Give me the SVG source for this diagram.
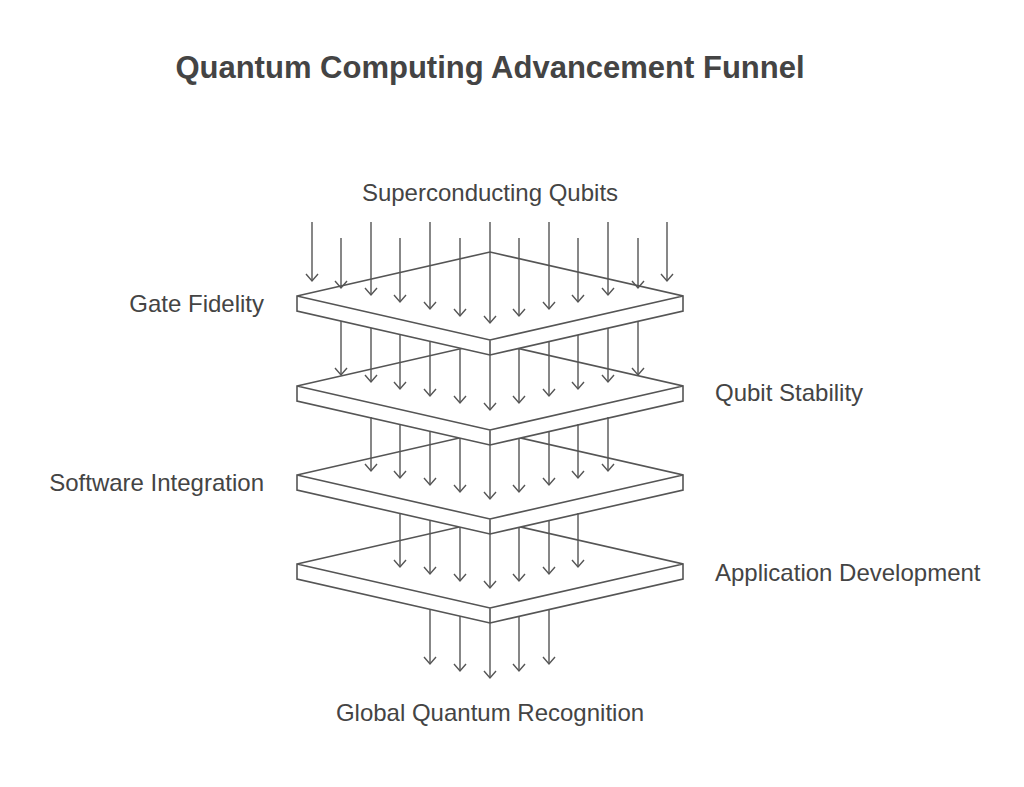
<svg xmlns="http://www.w3.org/2000/svg" width="1024" height="787" viewBox="0 0 1024 787">
<style>
.t{font-family:"Liberation Sans",Arial,sans-serif;fill:#444;font-size:24px}
.plate{fill:#fff;stroke:#555;stroke-width:1.6;stroke-linejoin:miter}
.ar{stroke:#555;stroke-width:1.4;fill:none}
</style>
<rect width="1024" height="787" fill="#fff"/>
<text x="490" y="78" text-anchor="middle" style="font-family:'Liberation Sans',Arial,sans-serif;font-weight:bold;font-size:31px;fill:#444">Quantum Computing Advancement Funnel</text>
<g id="plate4"><path class="plate" d="M297,564 L490,520 L683,564 L683,579 L490,623 L297,579 Z M297,564 L490,608 L683,564 M490,608 L490,623"/></g>
<g id="plate3"><path class="plate" d="M297,475 L490,431 L683,475 L683,490 L490,534 L297,490 Z M297,475 L490,519 L683,475 M490,519 L490,534"/></g>
<g id="plate2"><path class="plate" d="M297,386 L490,342 L683,386 L683,401 L490,445 L297,401 Z M297,386 L490,430 L683,386 M490,430 L490,445"/></g>
<g id="plate1"><path class="plate" d="M297,296 L490,252 L683,296 L683,311 L490,355 L297,311 Z M297,296 L490,340 L683,296 M490,340 L490,355"/></g>
<g id="connectors" class="ar">
<path d="M312,222V280M341,238V287M371,222V294M400,238V301M430,222V308M460,238V315M490,222V322M519,238V315M549,222V308M578,238V301M608,222V294M638,238V287M667,222V280"/>
<path d="M306,274L312,281L318,274M335,281L341,288L347,281M365,288L371,295L377,288M394,295L400,302L406,295M424,302L430,309L436,302M454,309L460,316L466,309M484,316L490,323L496,316M513,309L519,316L525,309M543,302L549,309L555,302M572,295L578,302L584,295M602,288L608,295L614,288M632,281L638,288L644,281M661,274L667,281L673,274"/>
<path d="M341,321V374M371,328V381M400,335V388M430,342V395M460,349V402M490,355V409M519,349V402M549,342V395M578,335V388M608,328V381M638,321V374"/>
<path d="M335,368L341,375L347,368M365,375L371,382L377,375M394,382L400,389L406,382M424,389L430,396L436,389M454,396L460,403L466,396M484,403L490,410L496,403M513,396L519,403L525,396M543,389L549,396L555,389M572,382L578,389L584,382M602,375L608,382L614,375M632,368L638,375L644,368"/>
<path d="M371,417V470M400,424V477M430,431V484M460,438V491M490,445V498M519,438V491M549,431V484M578,424V477M608,417V470"/>
<path d="M365,464L371,471L377,464M394,471L400,478L406,471M424,478L430,485L436,478M454,485L460,492L466,485M484,492L490,499L496,492M513,485L519,492L525,485M543,478L549,485L555,478M572,471L578,478L584,471M602,464L608,471L614,464"/>
<path d="M400,513V566M430,520V573M460,527V580M490,534V587M519,527V580M549,520V573M578,513V566"/>
<path d="M394,560L400,567L406,560M424,567L430,574L436,567M454,574L460,581L466,574M484,581L490,588L496,581M513,574L519,581L525,574M543,567L549,574L555,567M572,560L578,567L584,560"/>
<path d="M430,609V663M460,616V670M490,623V677M519,616V670M549,609V663"/>
<path d="M424,657L430,664L436,657M454,664L460,671L466,664M484,671L490,678L496,671M513,664L519,671L525,664M543,657L549,664L555,657"/>
</g>
<g id="labels">
<text class="t" x="490" y="201" text-anchor="middle">Superconducting Qubits</text>
<text class="t" x="264" y="312" text-anchor="end">Gate Fidelity</text>
<text class="t" x="715" y="401">Qubit Stability</text>
<text class="t" x="264" y="491" text-anchor="end">Software Integration</text>
<text class="t" x="715" y="581">Application Development</text>
<text class="t" x="490" y="721" text-anchor="middle">Global Quantum Recognition</text>
</g>
</svg>
